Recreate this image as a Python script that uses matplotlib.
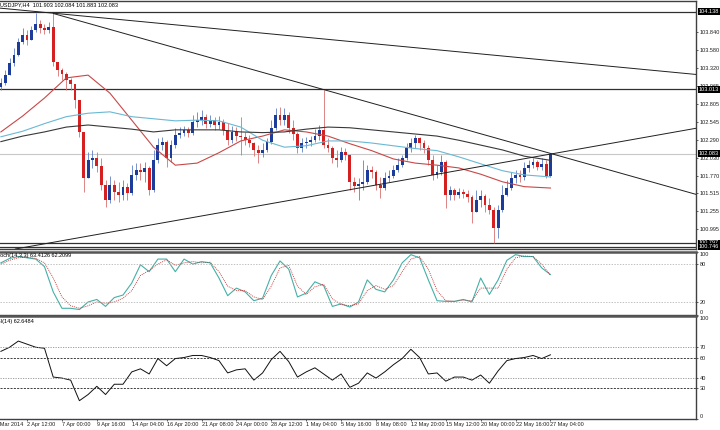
import matplotlib
matplotlib.use("Agg")
import matplotlib.pyplot as plt
import matplotlib.transforms as mtransforms
from matplotlib.patches import Rectangle
import numpy as np

plt.rcParams['font.family'] = ['Liberation Sans', 'DejaVu Sans']

# time axis: H4 bar number, 0 = 2 Apr 12:00, 240 = 27 May 04:00
# one candle is drawn for every two H4 bars
candle_bars = np.arange(-12, 241, 2)
first_open = 103.05
closes = np.array([
    103.11, 103.22, 103.40, 103.51, 103.70, 103.80, 103.73, 103.87, 103.96, 103.90,
    103.87, 103.92, 103.41, 103.30, 103.24, 103.15, 103.09, 102.86, 102.40, 101.73,
    101.99, 102.02, 101.91, 101.63, 101.42, 101.63, 101.53, 101.49, 101.60, 101.52,
    101.78, 101.85, 101.82, 101.88, 101.56, 101.99, 102.21, 102.26, 102.02, 102.21,
    102.36, 102.39, 102.43, 102.39, 102.54, 102.57, 102.62, 102.52, 102.57, 102.50,
    102.54, 102.43, 102.28, 102.40, 102.34, 102.33, 102.28, 102.24, 102.14, 102.10,
    102.14, 102.26, 102.46, 102.65, 102.57, 102.65, 102.46, 102.37, 102.17, 102.24,
    102.26, 102.28, 102.34, 102.43, 102.21, 102.17, 102.02, 101.99, 102.11, 102.07,
    101.68, 101.62, 101.65, 101.68, 101.85, 101.82, 101.63, 101.59, 101.73, 101.76,
    101.85, 101.92, 102.02, 102.17, 102.24, 102.31, 102.24, 102.17, 101.99, 101.78,
    101.82, 101.97, 101.49, 101.56, 101.49, 101.53, 101.50, 101.46, 101.24, 101.42,
    101.47, 101.34, 101.27, 101.01, 101.27, 101.49, 101.59, 101.73, 101.78, 101.75,
    101.88, 101.92, 101.97, 101.89, 101.94, 101.76, 102.083])
highs = np.array([
    103.18, 103.30, 103.47, 103.61, 103.76, 103.90, 103.87, 103.93, 104.11, 104.02,
    103.96, 103.99, 104.11, 103.38, 103.32, 103.27, 103.18, 103.09, 102.86, 102.40,
    102.11, 102.14, 102.11, 102.02, 101.71, 101.76, 101.71, 101.68, 101.71, 101.66,
    101.92, 101.95, 101.95, 101.97, 101.91, 102.14, 102.31, 102.33, 102.28, 102.28,
    102.46, 102.47, 102.49, 102.47, 102.65, 102.69, 102.72, 102.66, 102.65, 102.62,
    102.63, 102.59, 102.53, 102.49, 102.47, 102.62, 102.40, 102.36, 102.26, 102.21,
    102.24, 102.31, 102.57, 102.75, 102.76, 102.75, 102.69, 102.57, 102.40, 102.31,
    102.33, 102.34, 102.44, 102.50, 103.01, 102.31, 102.20, 102.14, 102.18, 102.17,
    102.07, 101.75, 101.73, 101.99, 101.92, 101.91, 101.85, 101.75, 101.82, 101.85,
    101.92, 102.02, 102.07, 102.24, 102.31, 102.36, 102.33, 102.28, 102.21, 102.07,
    101.92, 102.07, 101.99, 101.62, 101.59, 101.59, 101.58, 101.56, 101.49, 101.56,
    101.56, 101.50, 101.45, 101.32, 101.34, 101.63, 101.71, 101.82, 101.85, 101.85,
    101.97, 101.99, 102.02, 101.99, 102.02, 101.99, 102.084])
lows = np.array([
    103.01, 103.08, 103.27, 103.35, 103.50, 103.67, 103.66, 103.73, 103.84, 103.83,
    103.82, 103.83, 103.35, 103.21, 103.15, 103.01, 103.01, 102.75, 102.33, 101.53,
    101.73, 101.88, 101.82, 101.56, 101.32, 101.37, 101.42, 101.39, 101.42, 101.42,
    101.49, 101.71, 101.71, 101.68, 101.49, 101.53, 101.95, 102.14, 101.89, 101.97,
    102.17, 102.31, 102.34, 102.33, 102.36, 102.47, 102.50, 102.46, 102.47, 102.43,
    102.44, 102.36, 102.21, 102.24, 102.27, 102.07, 102.21, 102.18, 102.05, 101.95,
    102.04, 102.11, 102.23, 102.43, 102.50, 102.50, 102.39, 102.28, 102.10, 102.11,
    102.17, 102.20, 102.26, 102.28, 102.17, 102.11, 101.95, 101.89, 101.97, 101.99,
    101.56, 101.53, 101.42, 101.56, 101.65, 101.73, 101.56, 101.45, 101.56, 101.68,
    101.73, 101.82, 101.89, 101.99, 102.11, 102.17, 102.14, 102.10, 101.92, 101.71,
    101.73, 101.78, 101.30, 101.42, 101.42, 101.45, 101.45, 101.39, 101.08, 101.24,
    101.32, 101.24, 101.21, 100.80, 100.87, 101.24, 101.48, 101.56, 101.66, 101.68,
    101.71, 101.82, 101.88, 101.85, 101.85, 101.73, 101.75])

# moving averages read every ten H4 bars
ma_bars = np.r_[np.arange(-12, 230, 10), 240]
ma_red = [102.40, 102.63, 102.89, 103.18, 103.22, 102.96, 102.57, 102.18, 101.92, 101.95,
          102.10, 102.27, 102.34, 102.43, 102.40, 102.34, 102.23, 102.13, 102.01, 101.95,
          101.92, 101.88, 101.79, 101.68, 101.61, 101.59]
ma_cyan = [102.33, 102.41, 102.52, 102.62, 102.67, 102.69, 102.62, 102.59, 102.56, 102.57,
           102.56, 102.47, 102.28, 102.18, 102.20, 102.27, 102.27, 102.24, 102.20, 102.16,
           102.13, 102.04, 101.94, 101.84, 101.78, 101.75]
ma_dark = [102.26, 102.34, 102.40, 102.47, 102.50, 102.47, 102.44, 102.40, 102.43, 102.43,
           102.43, 102.40, 102.39, 102.40, 102.44, 102.47, 102.46, 102.43, 102.40, 102.37,
           102.34, 102.28, 102.21, 102.14, 102.05, 101.99]

# oscillators read every four H4 bars
ind_bars = np.arange(-12, 241, 4)
stoch_k = [82, 89, 92, 90, 88, 76, 36, 10, 10, 8,
           20, 24, 13, 27, 31, 50, 79, 68, 88, 88,
           68, 88, 80, 84, 82, 58, 30, 42, 36, 22,
           26, 62, 85, 72, 28, 34, 52, 46, 13, 17,
           12, 20, 55, 40, 36, 55, 82, 95, 90, 55,
           22, 21, 21, 24, 20, 58, 32, 55, 86, 95,
           92, 92, 74, 63.41]
stoch_d = [80, 86, 90, 91, 89, 82, 58, 28, 14, 10,
           14, 20, 18, 20, 26, 38, 62, 70, 80, 87,
           78, 82, 84, 82, 83, 68, 45, 38, 38, 28,
           24, 45, 74, 78, 45, 32, 44, 48, 25, 16,
           14, 17, 38, 46, 40, 46, 68, 88, 92, 72,
           38, 22, 21, 23, 22, 42, 42, 42, 72, 90,
           93, 92, 80, 62.21]
rsi = [66, 70, 76, 73, 70, 69, 41, 40, 38, 18,
       24, 32, 24, 34, 34, 46, 49, 44, 59, 52,
       59, 60, 62, 62, 60, 57, 45, 48, 49, 38,
       45, 58, 66, 56, 41, 46, 50, 44, 38, 44,
       31, 35, 45, 40, 46, 53, 59, 68, 60, 44,
       45, 37, 41, 41, 38, 43, 35, 47, 57, 59,
       60, 62, 59, 62.65]

# drawn objects
h_levels = [104.138, 103.013, 100.797, 100.746]
bid = 102.083
# (anchor 1, anchor 2, first bar of the ray or None for a full line)
trend_lines = [((0, 104.15), (240, 103.43), None),
               ((12, 104.11), (240, 102.09), 12),
               ((0, 100.74), (240, 102.08), None)]

price_ticks = [103.840, 103.580, 103.320, 103.065, 102.805, 102.545, 102.290,
               102.030, 101.770, 101.515, 101.255, 100.995]
label_bars = np.arange(0, 241, 16)
xlabels = ["2 Apr 12:00", "7 Apr 00:00", "9 Apr 16:00", "14 Apr 04:00", "16 Apr 20:00",
           "21 Apr 08:00", "24 Apr 00:00", "28 Apr 12:00", "1 May 04:00", "5 May 16:00",
           "8 May 08:00", "12 May 20:00", "15 May 12:00", "20 May 00:00", "22 May 16:00",
           "27 May 04:00"]

FS = 4.0
W, H = 720, 430
fig = plt.figure(figsize=(7.2, 4.3), dpi=100)


def box(y_top, y_bot):
    return [0, 1 - y_bot / H, 695.7 / W, (y_bot - y_top) / H]


ax = fig.add_axes(box(1, 249))
ax_st = fig.add_axes(box(251.5, 314.6), sharex=ax)
ax_rsi = fig.add_axes(box(316.4, 419.2), sharex=ax)

for a in (ax, ax_st, ax_rsi):
    a.set_facecolor('white')
    for s in a.spines.values():
        s.set_color('#404040')
        s.set_linewidth(1.0)
    a.spines['left'].set_visible(False)
    a.yaxis.tick_right()
    a.tick_params(axis='y', labelsize=FS, length=1.5, width=0.5, pad=1.2,
                  colors='#202020')
    a.tick_params(axis='x', bottom=False, labelbottom=False)
for a in (ax_st, ax_rsi):
    a.spines['top'].set_linewidth(1.8)
    a.spines['top'].set_color('#555555')

ax.set_xlim(-12.4, 306.6)
ax.set_ylim(100.71, 104.29)

# candles
opens = np.r_[first_open, closes[:-1]]
up = closes >= opens
body_col = np.where(up, '#1c3c9c', '#d42020')
wick_col = np.where(up, '#6080c8', '#d87070')
ax.vlines(candle_bars, np.minimum(lows, np.minimum(opens, closes)),
          np.maximum(highs, np.maximum(opens, closes)), colors=wick_col, lw=0.6, zorder=3)
ax.bar(candle_bars, closes - opens, bottom=opens, width=1.3, color=body_col, lw=0, zorder=4)

ax.plot(ma_bars, ma_red, color='#c84848', lw=0.8, zorder=5)
ax.plot(ma_bars, ma_cyan, color='#6ab8d4', lw=0.8, zorder=5)
ax.plot(ma_bars, ma_dark, color='#383838', lw=0.8, zorder=5)

for lv in h_levels:
    ax.axhline(lv, color='#303030', lw=0.9, zorder=2)
ax.axhline(bid, color='#c8c8c8', lw=0.8, zorder=1)

for p1, p2, start in trend_lines:
    ln = ax.axline(p1, p2, color='#202020', lw=0.7, zorder=6)
    if start is not None:
        ln.set_clip_path(Rectangle((start, 90), 1000, 20, transform=ax.transData))

ax.set_yticks(price_ticks, [f"{p:.3f}" for p in price_ticks])
yx = mtransforms.blended_transform_factory(ax.transAxes, ax.transData)
for lv in h_levels + [bid]:
    ax.text(1.004, lv, f"{lv:.3f}", transform=yx, color='white', fontsize=FS,
            va='center', ha='left', zorder=10, clip_on=False,
            bbox=dict(facecolor='black', edgecolor='none', pad=0.7))

fig.text(0.0, 1 - 4.5 / H, "USDJPY,H4  101.903 102.084 101.883 102.083",
         fontsize=FS, va='center', ha='left')

# stochastic
ax_st.set_ylim(0, 100)
ax_st.plot(ind_bars, stoch_k, color='#44b0a8', lw=0.8)
ax_st.plot(ind_bars, stoch_d, color='#c83030', lw=0.6, ls=(0, (1.2, 1.2)))
for lv in (80, 20):
    ax_st.axhline(lv, color='#a8a8a8', lw=0.5, ls=(0, (2, 2)))
ax_st.set_yticks([100, 80, 20, 0])
ax_st.text(-0.0075, 0.93, "Stoch(14,3,3) 63.4126 62.2099", transform=ax_st.transAxes,
           fontsize=FS, va='center', ha='left', clip_on=False)

# RSI
ax_rsi.set_ylim(0, 100)
ax_rsi.plot(ind_bars, rsi, color='#101010', lw=0.7)
for lv, c, ls in ((70, '#909090', (0, (1.5, 1.5))), (60, '#202020', (0, (2.5, 1.5))),
                  (40, '#909090', (0, (1.5, 1.5))), (30, '#202020', (0, (2.5, 1.5)))):
    ax_rsi.axhline(lv, color=c, lw=0.6, ls=ls)
ax_rsi.set_yticks([100, 70, 60, 40, 30, 0])
ax_rsi.text(-0.0107, 0.955, "RSI(14) 62.6484", transform=ax_rsi.transAxes,
            fontsize=FS, va='center', ha='left', clip_on=False)

# MetaTrader keeps the 0 and 100 labels inside their window
for a in (ax_st, ax_rsi):
    labels = a.get_yticklabels()
    labels[0].set_va('top')
    labels[-1].set_va('bottom')

ax_rsi.tick_params(axis='x', bottom=True, labelbottom=True, labelsize=FS,
                   length=1.5, width=0.5, pad=0.8, colors='#202020')
ax_rsi.set_xticks(label_bars, xlabels)
for t in ax_rsi.get_xticklabels():
    t.set_ha('left')
ax_rsi.annotate("31 Mar 2014", xy=(-16, 0), xycoords=('data', 'axes fraction'),
                xytext=(0, -4.0), textcoords='offset points', ha='left', va='center',
                fontsize=FS, color='#202020', annotation_clip=False)

fig.savefig("out.png", dpi=100)
